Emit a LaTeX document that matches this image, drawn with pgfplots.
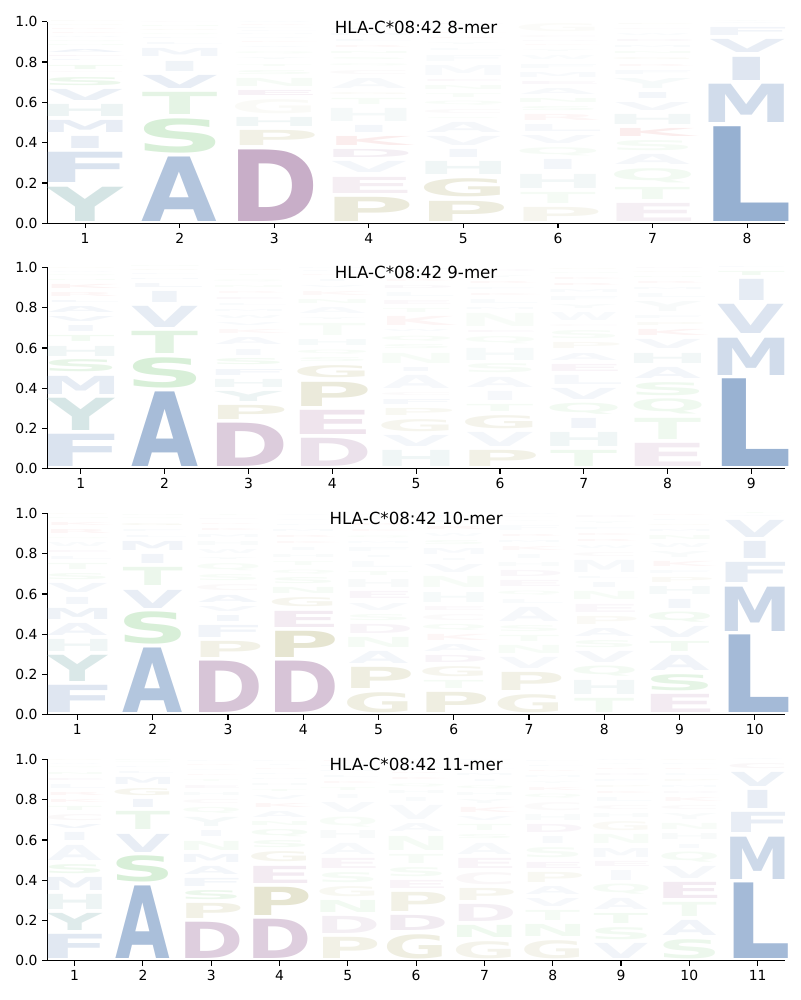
\documentclass[border=0pt]{standalone}
\usepackage{fontspec}
\setmainfont{DejaVu Sans}
\usepackage{graphicx}
\usepackage{pgfplots}
\usepackage{pgfplotstable}
\pgfplotsset{compat=1.18}

% letter colours
\definecolor{cA}{RGB}{139,167,204}
\definecolor{cF}{RGB}{139,167,204}
\definecolor{cI}{RGB}{139,167,204}
\definecolor{cL}{RGB}{139,167,204}
\definecolor{cM}{RGB}{139,167,204}
\definecolor{cV}{RGB}{139,167,204}
\definecolor{cW}{RGB}{139,167,204}
\definecolor{cY}{RGB}{132,178,178}
\definecolor{cH}{RGB}{132,178,178}
\definecolor{cS}{RGB}{125,202,125}
\definecolor{cT}{RGB}{125,202,125}
\definecolor{cN}{RGB}{125,202,125}
\definecolor{cQ}{RGB}{125,202,125}
\definecolor{cD}{RGB}{163,120,163}
\definecolor{cE}{RGB}{175,120,165}
\definecolor{cP}{RGB}{165,160,90}
\definecolor{cG}{RGB}{165,160,90}
\definecolor{cK}{RGB}{225,110,110}
\definecolor{cR}{RGB}{225,110,110}
\definecolor{cC}{RGB}{185,150,160}

% width factors (ink / advance of DejaVu Sans Bold)
\def\wfA{1.00}\def\wfC{1.18}\def\wfD{1.20}\def\wfE{1.30}\def\wfF{1.33}
\def\wfG{1.18}\def\wfH{1.28}\def\wfI{0.72}\def\wfK{1.13}\def\wfL{1.22}
\def\wfM{1.22}\def\wfN{1.28}\def\wfP{1.21}\def\wfQ{1.15}\def\wfR{1.15}
\def\wfS{1.18}\def\wfT{1.00}\def\wfV{1.00}\def\wfW{1.03}\def\wfY{1.00}

\newlength\uy \setlength\uy{145.15pt}
\newlength\glh
\newlength\glw
\newlength\curlw
% #1 letter, #2 height (data units), #3 opacity
\def\lglm#1/#2/#3\relax{%
  \setlength\glh{#2\uy}\addtolength\glh{-2.9pt}%
  \ifdim\glh<0.6pt\relax\setlength\glh{0.6pt}\fi
  \setlength\glw{\csname wf#1\endcsname\curlw}%
  \pgfsetfillopacity{#3}%
  \textcolor{c#1}{\resizebox*{\glw}{\glh}{\bfseries #1}}}

\pgfplotsset{logo/.style={
  scale only axis, width=531.1pt, height=145.15pt,
  anchor=north west,
  ymin=0, ymax=1,
  ytick={0,0.2,0.4,0.6,0.8,1},
  yticklabels={0.0,0.2,0.4,0.6,0.8,1.0},
  axis lines=left, axis line style={-, line width=0.8pt},
  tick align=outside, major tick length=3.5pt,
  tick style={line width=0.8pt, black},
  /pgf/number format/assume math mode=true,
  tick label style={font=\fontsize{10}{12}\selectfont},
  title style={at={(0.5,1)}, anchor=base, yshift=-14.4pt, font=\fontsize{12}{14}\selectfont},
  clip=false,
}}

\newcommand\logoplot[1]{%
  \addplot[draw=none, mark=none, point meta=explicit symbolic,
    nodes near coords={\expandafter\lglm\pgfplotspointmeta\relax},
    nodes near coords style={anchor=south, inner sep=0pt, outer sep=0pt},
  ] table[x=x, y=yb, meta=lab]{#1};}

\newcommand\prep[1]{%
  \pgfplotstablecreatecol[create col/expr accum={\pgfmathaccuma*(1-\thisrow{s})+\thisrow{h}}{0}]{top}{#1}%
  \pgfplotstablecreatecol[create col/expr={\thisrow{top}-\thisrow{h}+0.01}]{yb}{#1}%
  \pgfplotstablecreatecol[create col/assign/.code={%
      \getthisrow{aa}\tmpa \getthisrow{h}\tmph \getthisrow{op}\tmpo
      \edef\entry{\tmpa/\tmph/\tmpo}%
      \pgfkeyslet{/pgfplots/table/create col/next content}\entry}]{lab}{#1}}

% ---------------- 8-mer ----------------
\pgfplotstableread{
x s aa h op
1 1 Y 0.19 0.35
1 0 F 0.17 0.32
1 0 I 0.08 0.20
1 0 M 0.08 0.20
1 0 H 0.08 0.15
1 0 V 0.075 0.17
1 0 S 0.06 0.15
1 0 C 0.02 0.06
1 0 T 0.04 0.10
1 0 L 0.02 0.08
1 0 E 0.02 0.08
1 0 A 0.035 0.12
1 0 N 0.02 0.05
1 0 Q 0.02 0.05
1 0 W 0.02 0.05
1 0 K 0.02 0.06
1 0 R 0.02 0.05
1 0 G 0.02 0.04
1 0 P 0.01 0.04
2 1 A 0.34 0.66
2 0 S 0.19 0.30
2 0 T 0.13 0.20
2 0 V 0.085 0.20
2 0 I 0.07 0.13
2 0 M 0.06 0.10
2 0 L 0.03 0.06
2 0 F 0.02 0.05
2 0 Q 0.02 0.05
2 0 G 0.02 0.05
2 0 N 0.02 0.05
2 0 C 0.015 0.04
3 1 D 0.375 0.60
3 0 P 0.095 0.15
3 0 H 0.065 0.12
3 0 G 0.09 0.05
3 0 E 0.045 0.10
3 0 N 0.06 0.07
3 0 S 0.04 0.06
3 0 T 0.03 0.05
3 0 Y 0.03 0.05
3 0 Q 0.03 0.05
3 0 A 0.025 0.05
3 0 K 0.02 0.05
3 0 V 0.02 0.05
3 0 M 0.015 0.04
3 0 L 0.015 0.04
3 0 F 0.015 0.04
3 0 R 0.015 0.04
3 0 W 0.015 0.04
4 1 P 0.14 0.22
4 0 E 0.10 0.13
4 0 V 0.075 0.10
4 0 D 0.06 0.12
4 0 K 0.065 0.12
4 0 I 0.055 0.10
4 0 H 0.085 0.08
4 0 T 0.05 0.06
4 0 G 0.03 0.05
4 0 A 0.07 0.07
4 0 C 0.04 0.05
4 0 Q 0.03 0.05
4 0 S 0.03 0.05
4 0 N 0.03 0.05
4 0 R 0.03 0.05
4 0 L 0.03 0.05
4 0 M 0.03 0.05
4 0 F 0.025 0.04
4 0 W 0.025 0.04
5 1 P 0.12 0.20
5 0 G 0.11 0.20
5 0 H 0.085 0.12
5 0 I 0.06 0.10
5 0 V 0.065 0.09
5 0 A 0.07 0.09
5 0 S 0.025 0.05
5 0 C 0.04 0.05
5 0 Q 0.04 0.05
5 0 T 0.04 0.05
5 0 N 0.04 0.05
5 0 E 0.03 0.05
5 0 M 0.07 0.06
5 0 F 0.05 0.05
5 0 L 0.03 0.04
5 0 Y 0.03 0.04
5 0 R 0.025 0.04
5 0 K 0.025 0.04
5 0 W 0.02 0.04
5 0 D 0.025 0.04
6 1 P 0.09 0.10
6 0 T 0.075 0.08
6 0 H 0.09 0.10
6 0 I 0.07 0.10
6 0 Q 0.06 0.07
6 0 V 0.06 0.08
6 0 L 0.055 0.08
6 0 R 0.05 0.06
6 0 S 0.04 0.06
6 0 N 0.04 0.06
6 0 A 0.05 0.07
6 0 E 0.035 0.06
6 0 M 0.045 0.06
6 0 F 0.04 0.05
6 0 W 0.04 0.04
6 0 Y 0.03 0.04
6 0 K 0.02 0.04
6 0 D 0.02 0.04
6 0 C 0.03 0.04
6 0 G 0.06 0.04
7 1 E 0.11 0.12
7 0 T 0.08 0.10
7 0 Q 0.09 0.10
7 0 A 0.07 0.09
7 0 S 0.07 0.08
7 0 K 0.06 0.12
7 0 H 0.07 0.10
7 0 V 0.06 0.09
7 0 I 0.05 0.10
7 0 Y 0.07 0.07
7 0 F 0.04 0.06
7 0 R 0.03 0.05
7 0 G 0.03 0.05
7 0 N 0.03 0.05
7 0 M 0.03 0.05
7 0 D 0.03 0.05
7 0 W 0.03 0.04
7 0 C 0.025 0.04
7 0 P 0.025 0.04
8 1 L 0.49 0.90
8 0 M 0.21 0.40
8 0 I 0.135 0.28
8 0 V 0.085 0.20
8 0 F 0.06 0.12
8 0 A 0.01 0.05
8 0 Y 0.01 0.05
}\tA

% ---------------- 9-mer ----------------
\pgfplotstableread{
x s aa h op
1 1 F 0.18 0.32
1 0 Y 0.18 0.33
1 0 M 0.11 0.22
1 0 S 0.08 0.18
1 0 H 0.07 0.12
1 0 T 0.05 0.10
1 0 I 0.05 0.10
1 0 V 0.045 0.10
1 0 A 0.05 0.10
1 0 L 0.03 0.08
1 0 R 0.04 0.06
1 0 K 0.04 0.08
1 0 N 0.02 0.05
1 0 Q 0.02 0.05
1 0 W 0.02 0.04
1 0 G 0.015 0.04
2 1 A 0.39 0.76
2 0 S 0.17 0.30
2 0 T 0.13 0.22
2 0 V 0.125 0.22
2 0 I 0.075 0.14
2 0 L 0.04 0.09
2 0 M 0.025 0.06
2 0 F 0.02 0.05
2 0 G 0.02 0.05
2 0 N 0.005 0.04
3 1 D 0.235 0.38
3 0 P 0.09 0.16
3 0 Y 0.07 0.15
3 0 H 0.06 0.10
3 0 F 0.05 0.10
3 0 S 0.05 0.10
3 0 I 0.05 0.08
3 0 A 0.055 0.08
3 0 K 0.04 0.05
3 0 V 0.035 0.06
3 0 W 0.035 0.05
3 0 M 0.03 0.05
3 0 L 0.03 0.05
3 0 E 0.03 0.05
3 0 R 0.03 0.04
3 0 N 0.03 0.04
3 0 Q 0.03 0.04
3 0 T 0.025 0.04
3 0 G 0.025 0.04
4 1 D 0.16 0.22
4 0 E 0.14 0.20
4 0 P 0.14 0.22
4 0 G 0.08 0.15
4 0 S 0.04 0.06
4 0 Q 0.04 0.06
4 0 H 0.05 0.07
4 0 T 0.08 0.06
4 0 Y 0.03 0.05
4 0 A 0.05 0.06
4 0 N 0.04 0.05
4 0 K 0.04 0.05
4 0 V 0.03 0.05
4 0 I 0.03 0.05
4 0 R 0.02 0.04
4 0 L 0.015 0.04
4 0 M 0.015 0.04
5 1 H 0.10 0.12
5 0 V 0.075 0.10
5 0 G 0.08 0.10
5 0 P 0.055 0.08
5 0 F 0.045 0.08
5 0 C 0.035 0.05
5 0 A 0.085 0.08
5 0 I 0.04 0.08
5 0 N 0.07 0.06
5 0 S 0.04 0.06
5 0 Q 0.045 0.06
5 0 W 0.03 0.05
5 0 K 0.065 0.07
5 0 T 0.04 0.05
5 0 E 0.04 0.05
5 0 L 0.04 0.05
5 0 D 0.035 0.05
5 0 R 0.03 0.04
5 0 Y 0.03 0.04
5 0 M 0.02 0.04
6 1 P 0.10 0.15
6 0 V 0.09 0.10
6 0 G 0.085 0.12
6 0 T 0.055 0.08
6 0 I 0.065 0.08
6 0 A 0.07 0.08
6 0 S 0.065 0.07
6 0 H 0.08 0.07
6 0 Q 0.055 0.06
6 0 E 0.03 0.05
6 0 N 0.085 0.05
6 0 M 0.03 0.05
6 0 L 0.04 0.05
6 0 K 0.03 0.05
6 0 F 0.03 0.04
6 0 R 0.03 0.05
6 0 Y 0.03 0.04
6 0 D 0.03 0.04
7 1 T 0.10 0.12
7 0 H 0.09 0.12
7 0 I 0.07 0.12
7 0 Q 0.075 0.10
7 0 V 0.075 0.10
7 0 L 0.065 0.08
7 0 E 0.055 0.08
7 0 A 0.055 0.08
7 0 P 0.05 0.06
7 0 S 0.06 0.06
7 0 C 0.03 0.04
7 0 W 0.06 0.06
7 0 Y 0.04 0.05
7 0 F 0.04 0.05
7 0 M 0.035 0.05
7 0 R 0.03 0.06
7 0 K 0.03 0.05
7 0 N 0.02 0.04
7 0 G 0.02 0.04
8 1 E 0.135 0.15
8 0 T 0.125 0.12
8 0 Q 0.095 0.12
8 0 S 0.085 0.12
8 0 A 0.075 0.10
8 0 H 0.07 0.10
8 0 V 0.065 0.09
8 0 K 0.05 0.08
8 0 P 0.035 0.05
8 0 F 0.035 0.05
8 0 Y 0.07 0.06
8 0 L 0.04 0.05
8 0 M 0.03 0.05
8 0 R 0.03 0.05
8 0 N 0.025 0.04
8 0 G 0.02 0.04
8 0 D 0.015 0.04
9 1 L 0.455 0.88
9 0 M 0.205 0.40
9 0 V 0.165 0.30
9 0 I 0.125 0.22
9 0 T 0.04 0.10
9 0 F 0.01 0.05
}\tB

% ---------------- 10-mer ----------------
\pgfplotstableread{
x s aa h op
1 1 F 0.155 0.28
1 0 Y 0.15 0.30
1 0 H 0.08 0.12
1 0 A 0.08 0.12
1 0 M 0.075 0.15
1 0 I 0.055 0.10
1 0 V 0.065 0.10
1 0 S 0.05 0.08
1 0 T 0.05 0.07
1 0 L 0.035 0.06
1 0 E 0.03 0.05
1 0 W 0.04 0.05
1 0 Q 0.025 0.04
1 0 R 0.04 0.06
1 0 K 0.035 0.06
1 0 N 0.02 0.04
1 0 G 0.015 0.04
2 1 A 0.34 0.65
2 0 S 0.18 0.30
2 0 V 0.11 0.20
2 0 T 0.11 0.15
2 0 I 0.065 0.12
2 0 M 0.065 0.12
2 0 L 0.03 0.06
2 0 F 0.03 0.05
2 0 G 0.03 0.07
2 0 Q 0.02 0.04
2 0 N 0.02 0.04
3 1 D 0.275 0.43
3 0 P 0.10 0.15
3 0 F 0.08 0.12
3 0 I 0.05 0.10
3 0 V 0.045 0.08
3 0 A 0.055 0.10
3 0 C 0.05 0.06
3 0 S 0.05 0.06
3 0 Q 0.055 0.06
3 0 Y 0.03 0.05
3 0 W 0.04 0.05
3 0 H 0.04 0.05
3 0 M 0.035 0.05
3 0 K 0.03 0.05
3 0 R 0.025 0.04
3 0 E 0.02 0.04
3 0 T 0.02 0.04
4 1 D 0.275 0.44
4 0 P 0.15 0.28
4 0 E 0.10 0.15
4 0 G 0.065 0.10
4 0 N 0.05 0.07
4 0 S 0.05 0.07
4 0 Q 0.04 0.05
4 0 T 0.04 0.05
4 0 H 0.035 0.05
4 0 I 0.035 0.05
4 0 K 0.03 0.05
4 0 R 0.03 0.05
4 0 M 0.03 0.05
4 0 L 0.025 0.04
4 0 V 0.025 0.04
4 0 A 0.02 0.04
5 1 G 0.12 0.18
5 0 P 0.125 0.18
5 0 A 0.08 0.10
5 0 N 0.07 0.08
5 0 D 0.065 0.08
5 0 S 0.05 0.06
5 0 V 0.055 0.07
5 0 E 0.055 0.07
5 0 H 0.06 0.06
5 0 T 0.04 0.05
5 0 L 0.05 0.05
5 0 I 0.03 0.05
5 0 F 0.04 0.05
5 0 M 0.03 0.04
5 0 Q 0.03 0.04
5 0 K 0.03 0.04
5 0 R 0.03 0.04
5 0 Y 0.02 0.04
5 0 W 0.02 0.04
6 1 P 0.12 0.18
6 0 T 0.06 0.08
6 0 G 0.07 0.10
6 0 D 0.055 0.08
6 0 A 0.055 0.08
6 0 K 0.05 0.06
6 0 Q 0.05 0.06
6 0 C 0.05 0.05
6 0 E 0.04 0.05
6 0 H 0.07 0.07
6 0 N 0.075 0.06
6 0 V 0.06 0.07
6 0 I 0.03 0.05
6 0 M 0.05 0.06
6 0 S 0.04 0.05
6 0 W 0.035 0.04
6 0 R 0.035 0.05
6 0 L 0.03 0.04
6 0 F 0.025 0.04
7 1 G 0.11 0.15
7 0 P 0.11 0.15
7 0 V 0.075 0.08
7 0 N 0.06 0.06
7 0 T 0.05 0.06
7 0 S 0.05 0.06
7 0 A 0.09 0.08
7 0 L 0.04 0.05
7 0 Q 0.04 0.05
7 0 E 0.05 0.06
7 0 D 0.05 0.06
7 0 H 0.04 0.05
7 0 I 0.04 0.05
7 0 K 0.04 0.05
7 0 M 0.03 0.05
7 0 R 0.03 0.05
7 0 F 0.045 0.04
7 0 Y 0.02 0.04
7 0 C 0.015 0.04
7 0 W 0.015 0.04
8 1 T 0.09 0.10
8 0 H 0.09 0.10
8 0 Q 0.07 0.09
8 0 V 0.075 0.09
8 0 S 0.055 0.07
8 0 A 0.06 0.08
8 0 P 0.06 0.06
8 0 E 0.06 0.06
8 0 N 0.06 0.06
8 0 I 0.045 0.07
8 0 L 0.03 0.05
8 0 M 0.08 0.07
8 0 C 0.04 0.05
8 0 W 0.035 0.04
8 0 R 0.03 0.05
8 0 K 0.03 0.05
8 0 F 0.03 0.04
8 0 Y 0.03 0.04
8 0 D 0.03 0.04
9 1 E 0.11 0.15
9 0 S 0.10 0.20
9 0 A 0.095 0.12
9 0 T 0.07 0.10
9 0 V 0.075 0.10
9 0 Q 0.07 0.10
9 0 I 0.065 0.10
9 0 H 0.06 0.08
9 0 P 0.045 0.06
9 0 F 0.035 0.05
9 0 K 0.045 0.06
9 0 Y 0.05 0.05
9 0 W 0.04 0.05
9 0 N 0.04 0.05
9 0 M 0.03 0.05
9 0 G 0.025 0.04
9 0 L 0.025 0.04
9 0 R 0.02 0.04
10 1 L 0.405 0.78
10 0 M 0.24 0.45
10 0 F 0.12 0.22
10 0 I 0.105 0.20
10 0 V 0.105 0.18
10 0 A 0.015 0.05
10 0 T 0.01 0.05
}\tC

% ---------------- 11-mer ----------------
\pgfplotstableread{
x s aa h op
1 1 F 0.14 0.26
1 0 Y 0.105 0.26
1 0 H 0.095 0.15
1 0 M 0.085 0.15
1 0 S 0.065 0.12
1 0 A 0.095 0.10
1 0 I 0.06 0.10
1 0 V 0.04 0.10
1 0 C 0.05 0.07
1 0 T 0.04 0.07
1 0 K 0.035 0.06
1 0 R 0.035 0.06
1 0 L 0.04 0.06
1 0 E 0.03 0.05
1 0 N 0.03 0.05
1 0 Q 0.02 0.04
1 0 W 0.02 0.04
1 0 G 0.015 0.04
2 1 A 0.38 0.73
2 0 S 0.15 0.30
2 0 V 0.11 0.20
2 0 T 0.11 0.15
2 0 I 0.06 0.12
2 0 G 0.055 0.10
2 0 M 0.055 0.10
2 0 L 0.03 0.06
2 0 F 0.02 0.05
2 0 Q 0.015 0.04
2 0 N 0.015 0.04
3 1 D 0.20 0.36
3 0 P 0.095 0.15
3 0 S 0.065 0.15
3 0 F 0.06 0.10
3 0 A 0.06 0.10
3 0 M 0.06 0.10
3 0 N 0.065 0.08
3 0 I 0.05 0.08
3 0 Y 0.065 0.08
3 0 Q 0.05 0.06
3 0 C 0.04 0.05
3 0 H 0.035 0.05
3 0 E 0.035 0.05
3 0 T 0.03 0.04
3 0 K 0.025 0.04
3 0 V 0.025 0.04
3 0 R 0.02 0.04
3 0 L 0.02 0.04
4 1 D 0.215 0.36
4 0 P 0.16 0.28
4 0 E 0.105 0.15
4 0 G 0.07 0.10
4 0 S 0.055 0.08
4 0 Q 0.055 0.08
4 0 N 0.04 0.06
4 0 A 0.05 0.07
4 0 K 0.04 0.06
4 0 V 0.04 0.06
4 0 T 0.03 0.05
4 0 H 0.03 0.05
4 0 M 0.025 0.04
4 0 L 0.025 0.04
4 0 R 0.02 0.04
4 0 I 0.02 0.04
4 0 F 0.02 0.04
5 1 P 0.125 0.15
5 0 D 0.105 0.12
5 0 N 0.08 0.10
5 0 G 0.07 0.08
5 0 S 0.07 0.08
5 0 E 0.07 0.08
5 0 A 0.075 0.07
5 0 H 0.06 0.06
5 0 Q 0.07 0.06
5 0 V 0.07 0.07
5 0 I 0.04 0.05
5 0 T 0.035 0.05
5 0 K 0.03 0.05
5 0 L 0.03 0.05
5 0 M 0.025 0.04
5 0 F 0.025 0.04
5 0 R 0.02 0.04
6 1 G 0.14 0.18
6 0 D 0.095 0.15
6 0 P 0.115 0.15
6 0 E 0.06 0.08
6 0 S 0.065 0.08
6 0 T 0.065 0.07
6 0 N 0.09 0.08
6 0 A 0.06 0.07
6 0 V 0.09 0.07
6 0 I 0.04 0.05
6 0 H 0.035 0.05
6 0 Q 0.035 0.05
6 0 K 0.03 0.05
6 0 R 0.025 0.04
6 0 M 0.02 0.04
6 0 L 0.02 0.04
6 0 F 0.015 0.04
7 1 G 0.105 0.12
7 0 N 0.08 0.12
7 0 D 0.105 0.12
7 0 P 0.08 0.10
7 0 C 0.08 0.08
7 0 E 0.07 0.08
7 0 A 0.075 0.07
7 0 S 0.04 0.06
7 0 T 0.05 0.06
7 0 V 0.04 0.06
7 0 K 0.045 0.06
7 0 Y 0.04 0.05
7 0 H 0.035 0.05
7 0 Q 0.035 0.05
7 0 I 0.03 0.05
7 0 M 0.03 0.05
7 0 L 0.025 0.04
7 0 R 0.02 0.04
7 0 F 0.015 0.04
8 1 G 0.11 0.12
8 0 N 0.08 0.10
8 0 T 0.07 0.08
8 0 V 0.06 0.08
8 0 A 0.06 0.08
8 0 P 0.07 0.08
8 0 E 0.05 0.07
8 0 S 0.07 0.07
8 0 I 0.055 0.07
8 0 D 0.06 0.07
8 0 H 0.05 0.05
8 0 C 0.06 0.05
8 0 Q 0.04 0.05
8 0 K 0.035 0.05
8 0 Y 0.03 0.04
8 0 M 0.03 0.04
8 0 R 0.025 0.04
8 0 L 0.025 0.04
8 0 F 0.02 0.04
9 1 V 0.095 0.12
9 0 S 0.08 0.10
9 0 T 0.07 0.10
9 0 A 0.075 0.08
9 0 Q 0.07 0.08
9 0 I 0.07 0.07
9 0 E 0.045 0.06
9 0 M 0.065 0.07
9 0 N 0.065 0.06
9 0 G 0.065 0.06
9 0 H 0.04 0.05
9 0 C 0.04 0.05
9 0 L 0.04 0.05
9 0 K 0.03 0.05
9 0 P 0.03 0.04
9 0 F 0.03 0.04
9 0 D 0.03 0.04
9 0 R 0.025 0.04
9 0 Y 0.02 0.04
9 0 W 0.015 0.04
10 1 S 0.115 0.15
10 0 A 0.095 0.12
10 0 T 0.09 0.10
10 0 E 0.10 0.15
10 0 V 0.08 0.09
10 0 Q 0.07 0.08
10 0 I 0.04 0.06
10 0 H 0.05 0.06
10 0 N 0.05 0.05
10 0 Y 0.05 0.05
10 0 C 0.04 0.05
10 0 K 0.04 0.05
10 0 D 0.03 0.04
10 0 M 0.03 0.04
10 0 P 0.03 0.04
10 0 L 0.03 0.04
10 0 R 0.025 0.04
10 0 F 0.02 0.04
10 0 G 0.015 0.04
11 1 L 0.395 0.78
11 0 M 0.23 0.43
11 0 F 0.12 0.20
11 0 I 0.11 0.20
11 0 V 0.09 0.16
11 0 C 0.045 0.08
11 0 A 0.01 0.05
}\tD

\prep{\tA}
\prep{\tB}
\prep{\tC}
\prep{\tD}

\begin{document}
\begin{tikzpicture}
\path[use as bounding box] (0,0) rectangle (576pt,-720pt);

\setlength\curlw{54.48pt}
\begin{axis}[logo, at={(34.06pt,-15.62pt)},
  xmin=0.6, xmax=8.4, xtick={1,...,8},
  title={HLA-C*08:42 8-mer}]
\logoplot{\tA}
\end{axis}

\setlength\curlw{48.29pt}
\begin{axis}[logo, at={(34.06pt,-192.46pt)},
  xmin=0.6, xmax=9.4, xtick={1,...,9},
  title={HLA-C*08:42 9-mer}]
\logoplot{\tB}
\end{axis}

\setlength\curlw{43.36pt}
\begin{axis}[logo, at={(34.06pt,-369.58pt)},
  xmin=0.6, xmax=10.4, xtick={1,...,10},
  title={HLA-C*08:42 10-mer}]
\logoplot{\tC}
\end{axis}

\setlength\curlw{39.34pt}
\begin{axis}[logo, at={(34.06pt,-546.70pt)},
  xmin=0.6, xmax=11.4, xtick={1,...,11},
  title={HLA-C*08:42 11-mer}]
\logoplot{\tD}
\end{axis}
\end{tikzpicture}
\end{document}
